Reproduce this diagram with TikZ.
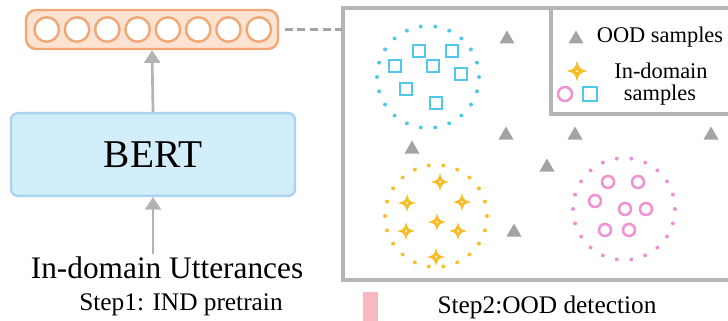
\documentclass[tikz,border=0pt]{standalone}
\usepackage{fontspec}
\setmainfont{Liberation Serif}
\usetikzlibrary{arrows.meta,calc}
\definecolor{vecorange}{HTML}{F2A673}
\definecolor{vecfill}{HTML}{FCE2D0}
\definecolor{bertline}{HTML}{A9D3EE}
\definecolor{bertfill}{HTML}{D2EEFA}
\definecolor{arrowgray}{HTML}{B3B3B3}
\definecolor{oodgray}{HTML}{A3A3A3}
\definecolor{framegray}{HTML}{B5B5B5}
\definecolor{sqblue}{HTML}{4FC8EA}
\definecolor{stargold}{HTML}{F5BE2A}
\definecolor{circpink}{HTML}{EE92D2}
\definecolor{steppink}{HTML}{F7B8C1}
\def\oodtri(#1,#2){\fill[oodgray] (#1-7.5,#2+6.5) -- (#1,#2-6.5) -- (#1+7.5,#2+6.5) -- cycle;}
\def\indsq(#1,#2){\draw[sqblue, line width=2.1pt] (#1-6,#2-6) rectangle (#1+6,#2+6);}
\def\indcirc(#1,#2){\draw[circpink, line width=1.9pt] (#1,#2) circle (6);}
\def\indstar[#1](#2,#3){\fill[stargold] (#2,#3-#1) .. controls (#2+0.22*#1,#3-0.22*#1) .. (#2+#1,#3) .. controls (#2+0.22*#1,#3+0.22*#1) .. (#2,#3+#1) .. controls (#2-0.22*#1,#3+0.22*#1) .. (#2-#1,#3) .. controls (#2-0.22*#1,#3-0.22*#1) .. (#2,#3-#1) -- cycle;
  \fill[white] (#2,#3) circle (1);}
\def\dotring[#1](#2,#3){\foreach \i in {0,...,21} \fill[#1] ($(#2,#3)+({51*cos(\i*360/22)},{51*sin(\i*360/22)})$) circle (2);}

\begin{document}
\begin{tikzpicture}[x=0.75pt, y=-0.75pt,
  gray arrow/.style={draw=arrowgray, line width=2pt, -{Triangle[width=12pt,length=9.5pt]}},
  bigtext/.style={font=\fontsize{23.5}{26}\selectfont, inner sep=2pt}]
		%%%%% START %%%%%
		\useasboundingbox (0,0) rectangle (728,321);
		\clip (0,0) rectangle (728,321);
		
		% step 1: encoder
		\node[draw=vecorange, fill=vecfill, line width=1.8pt, rounded corners=7.5pt,
		  minimum width=189pt, minimum height=29.25pt] (vec) at (152,29.5) {};
		\foreach \i in {0,...,7}
		  \draw[vecorange, fill=white, line width=1.8pt] (46.7+30.3*\i, 29.5) circle (12.2);
		
		\node[draw=bertline, fill=bertfill, line width=1.8pt, rounded corners=5pt,
		  minimum width=213pt, minimum height=62pt, font=\fontsize{29.5}{32}\selectfont] (bert) at (153,154.5) {BERT};
		
		\node[bigtext] (utt) at (167,268) {In-domain Utterances};
		\node[font=\fontsize{19}{22}\selectfont] (step1) at (181,305) {Step1: IND pretrain};
		
		\draw[gray arrow] (utt.north -| bert.south) -- (bert.south);
		\draw[gray arrow] (bert.north) -- (vec.south);
		
		% step 2: detection space
		\draw[framegray, line width=2.6pt] (343,8) rectangle (745,280);
		\draw[framegray, line width=2.6pt] (551,8) rectangle (745,114);
		\coordinate (space) at (342,29.5);
		\draw[oodgray, line width=2.4pt, dash pattern=on 6pt off 3.5pt, shorten <=4pt] (vec.east) -- (space);
		
		\dotring[sqblue](428,77)
		\indsq(419,51) \indsq(452,51) \indsq(433,66) \indsq(395,66)
		\indsq(461,74) \indsq(406,89) \indsq(436,103)
		
		\dotring[stargold](436,216)
		\indstar[9](440,182) \indstar[9](407,203) \indstar[9](462,202)
		\indstar[9](437,222) \indstar[9](406,231) \indstar[9](458,231)
		\indstar[9](436,257)
		
		\dotring[circpink](624,209)
		\indcirc(608,182) \indcirc(638,182) \indcirc(595,201) \indcirc(625,209)
		\indcirc(646,209) \indcirc(605,230) \indcirc(629,230)
		
		\oodtri(507,37) \oodtri(506,133) \oodtri(575,133) \oodtri(711,133)
		\oodtri(412,147) \oodtri(547,165) \oodtri(514,230)
		
		% legend
		\oodtri(576,37)
		\node[font=\fontsize{16.8}{19}\selectfont] (oodlab) at (660,37) {OOD samples};
		\indstar[10.5](577,71)
		\node[font=\fontsize{16.8}{19}\selectfont] (indlab) at (661,71) {In-domain};
		\draw[circpink, line width=1.9pt] (565,94) circle (7);
		\draw[sqblue, line width=2.1pt] (583,87) rectangle (597,101);
		\node[font=\fontsize{16.8}{19}\selectfont] (smplab) at (660,95) {samples};
		
		\fill[steppink] (363,292) rectangle (378,325);
		\node[font=\fontsize{19}{22}\selectfont] (step2) at (547,307) {Step2:OOD detection};
		%%%%% END %%%%%
\end{tikzpicture}
\end{document}
